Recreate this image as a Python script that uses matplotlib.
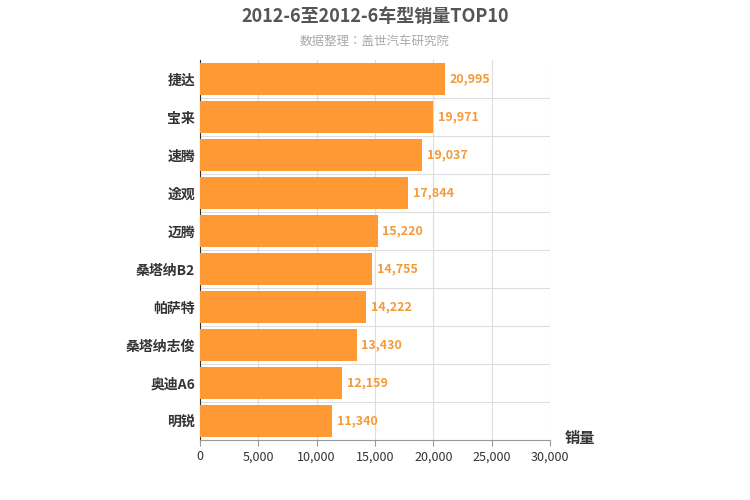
import matplotlib
matplotlib.use("Agg")
import matplotlib.pyplot as plt
from matplotlib import font_manager as fm

cjk = [f.name for f in fm.fontManager.ttflist if "CJK" in f.name]
pref = [n for n in ["Noto Sans CJK SC", "Noto Sans CJK JP", "Noto Sans CJK TC", "Noto Sans CJK KR"] if n in cjk] or cjk
plt.rcParams['font.family'] = 'sans-serif'
plt.rcParams['font.sans-serif'] = pref[:1] + ['DejaVu Sans']

categories = ["捷达", "宝来", "速腾", "途观", "迈腾", "桑塔纳B2", "帕萨特", "桑塔纳志俊", "奥迪A6", "明锐"]
values = [20995, 19971, 19037, 17844, 15220, 14755, 14222, 13430, 12159, 11340]
xticks = [0, 5000, 10000, 15000, 20000, 25000, 30000]

fig = plt.figure(figsize=(7.5, 5), dpi=100)
ax = fig.add_axes([200/750, 60/500, 350/750, 380/500])
y = list(range(len(categories)))
ax.barh(y, values, height=0.82, color="#ff9933", zorder=3)
for yi, v in zip(y, values):
    ax.text(v + 400, yi, f"{v:,}", va="center", ha="left", fontsize=9, color="#f39a3a",
            fontweight="bold", zorder=4)
ax.set_yticks(y)
ax.set_yticklabels(categories, fontsize=10, color="#333333", fontweight="bold")
ax.set_ylim(len(categories) - 0.5, -0.5)
ax.set_xlim(0, 30000)
ax.set_xticks(xticks)
ax.set_xticklabels([f"{t:,}" for t in xticks], fontsize=9, color="#333333")
ax.grid(True, color="#dddddd", linewidth=0.8, zorder=0)
ax.set_yticks([i + 0.5 for i in y[:-1]], minor=True)
ax.grid(False, axis="y")
ax.grid(True, axis="y", which="minor", color="#dddddd", linewidth=0.8)
ax.tick_params(axis="y", which="both", length=0)
ax.tick_params(axis="x", length=4, color="#999999")
for s in ["top", "right"]:
    ax.spines[s].set_visible(False)
ax.spines["left"].set_color("#333333")
ax.spines["bottom"].set_color("#999999")
fig.text(0.5, 1 - 17/500, "2012-6至2012-6车型销量TOP10", ha="center", va="center",
         fontsize=13, fontweight="bold", color="#555555")
fig.text(0.5, 1 - 41/500, "数据整理：盖世汽车研究院", ha="center", va="center", fontsize=9, color="#aaaaaa")
fig.text(565/750, 1 - 438/500, "销量", ha="left", va="center", fontsize=11, fontweight="bold", color="#333333")
fig.savefig("out.png", dpi=100)
